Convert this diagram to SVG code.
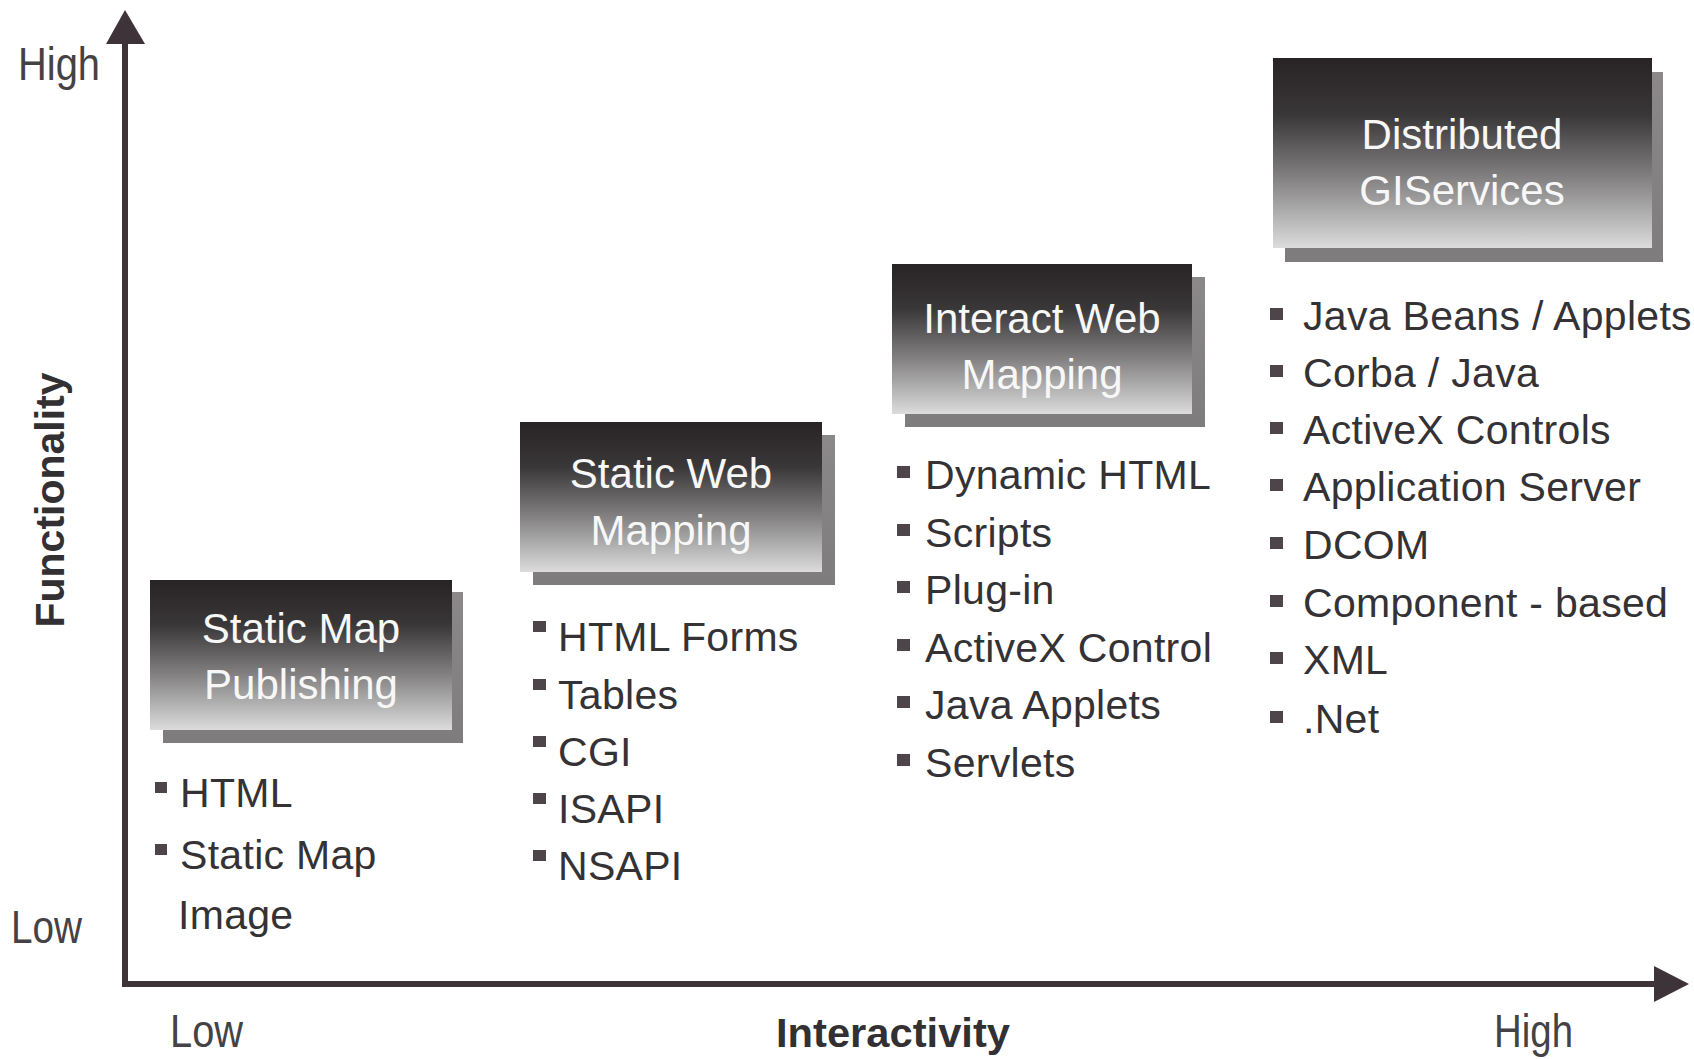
<svg xmlns="http://www.w3.org/2000/svg" width="1694" height="1059" viewBox="0 0 1694 1059">
  <style>
    .title { font-family: "Liberation Sans", Arial, sans-serif; font-size: 42px; fill: #f7f7f7; text-anchor: middle; }
    .item { font-family: "Liberation Sans", Arial, sans-serif; font-size: 41px; fill: #353235; letter-spacing: 0.3px; }
    .axlab { font-family: "Liberation Sans", Arial, sans-serif; font-size: 46px; fill: #454245; }
    .axtitle { font-family: "Liberation Sans", Arial, sans-serif; font-size: 40px; font-weight: bold; fill: #333033; }
    .shadow { fill: url(#shadgrad); }
    .box { fill: url(#boxgrad); }
    .bullet { fill: #4d4549; }
    .axis { stroke: #3d3338; stroke-width: 6; fill: none; stroke-linejoin: miter; }
    .head { fill: #3d3338; }
  </style>
  <defs>
    <linearGradient id="boxgrad" x1="0" y1="0" x2="0" y2="1">
      <stop offset="0" stop-color="#282324"/>
      <stop offset="0.3" stop-color="#3a3738"/>
      <stop offset="0.62" stop-color="#807e7f"/>
      <stop offset="1" stop-color="#dcdcdc"/>
    </linearGradient>
    <linearGradient id="shadgrad" x1="0" y1="0" x2="0" y2="1">
      <stop offset="0" stop-color="#8a8889"/>
      <stop offset="1" stop-color="#7e7c7d"/>
    </linearGradient>
  </defs>

  <rect width="1694" height="1059" fill="#ffffff"/>

  <!-- axes (connectors) -->
  <g id="axes">
    <polyline class="axis" points="125,40 125,984 1660,984"/>
    <polygon class="head" points="125,10 106,44 145,44"/>
    <polygon class="head" points="1689,984 1654,966 1654,1002"/>
  </g>

  <!-- axis labels -->
  <g id="axis-labels">
    <text class="axlab" x="18" y="80" textLength="82" lengthAdjust="spacingAndGlyphs">High</text>
    <text class="axlab" x="11" y="943" textLength="71" lengthAdjust="spacingAndGlyphs">Low</text>
    <text class="axlab" x="170" y="1047" textLength="73" lengthAdjust="spacingAndGlyphs">Low</text>
    <text class="axlab" x="1494" y="1047" textLength="79" lengthAdjust="spacingAndGlyphs">High</text>
    <text class="axtitle" x="776" y="1047" textLength="234" lengthAdjust="spacingAndGlyphs">Interactivity</text>
    <text class="axtitle" transform="translate(64,500) rotate(-90)" x="0" y="0" text-anchor="middle" textLength="255" lengthAdjust="spacingAndGlyphs">Functionality</text>
  </g>

  <!-- Node 1 -->
  <g id="static-map-publishing">
    <rect class="shadow" x="163" y="592" width="300" height="151"/>
    <rect class="box" x="150" y="580" width="302" height="150"/>
    <text class="title" x="301" y="643">Static Map</text>
    <text class="title" x="301" y="699">Publishing</text>
    <rect class="bullet" x="155" y="782" width="12" height="11"/>
    <text class="item" x="180" y="807">HTML</text>
    <rect class="bullet" x="155" y="844" width="12" height="11"/>
    <text class="item" x="180" y="869">Static Map</text>
    <text class="item" x="178" y="929">Image</text>
  </g>

  <!-- Node 2 -->
  <g id="static-web-mapping">
    <rect class="shadow" x="533" y="435" width="302" height="150"/>
    <rect class="box" x="520" y="422" width="302" height="150"/>
    <text class="title" x="671" y="488">Static Web</text>
    <text class="title" x="671" y="545">Mapping</text>
    <rect class="bullet" x="533" y="621" width="13" height="11"/>
    <text class="item" x="558" y="651">HTML Forms</text>
    <rect class="bullet" x="533" y="679" width="13" height="11"/>
    <text class="item" x="558" y="709">Tables</text>
    <rect class="bullet" x="533" y="736" width="13" height="11"/>
    <text class="item" x="558" y="766">CGI</text>
    <rect class="bullet" x="533" y="793" width="13" height="11"/>
    <text class="item" x="558" y="823">ISAPI</text>
    <rect class="bullet" x="533" y="850" width="13" height="11"/>
    <text class="item" x="558" y="880">NSAPI</text>
  </g>

  <!-- Node 3 -->
  <g id="interact-web-mapping">
    <rect class="shadow" x="905" y="277" width="300" height="150"/>
    <rect class="box" x="892" y="264" width="300" height="150"/>
    <text class="title" x="1042" y="333">Interact Web</text>
    <text class="title" x="1042" y="389">Mapping</text>
    <rect class="bullet" x="897" y="466" width="13" height="12"/>
    <text class="item" x="925" y="489">Dynamic HTML</text>
    <rect class="bullet" x="897" y="524" width="13" height="12"/>
    <text class="item" x="925" y="547">Scripts</text>
    <rect class="bullet" x="897" y="581" width="13" height="12"/>
    <text class="item" x="925" y="604">Plug-in</text>
    <rect class="bullet" x="897" y="639" width="13" height="12"/>
    <text class="item" x="925" y="662">ActiveX Control</text>
    <rect class="bullet" x="897" y="696" width="13" height="12"/>
    <text class="item" x="925" y="719">Java Applets</text>
    <rect class="bullet" x="897" y="754" width="13" height="12"/>
    <text class="item" x="925" y="777">Servlets</text>
  </g>

  <!-- Node 4 -->
  <g id="distributed-giservices">
    <rect class="shadow" x="1285" y="72" width="378" height="190"/>
    <rect class="box" x="1273" y="58" width="379" height="190"/>
    <text class="title" x="1462" y="149">Distributed</text>
    <text class="title" x="1462" y="205">GIServices</text>
    <rect class="bullet" x="1270" y="308" width="13" height="12"/>
    <text class="item" x="1303" y="330">Java Beans / Applets</text>
    <rect class="bullet" x="1270" y="365" width="13" height="12"/>
    <text class="item" x="1303" y="387">Corba / Java</text>
    <rect class="bullet" x="1270" y="422" width="13" height="12"/>
    <text class="item" x="1303" y="444">ActiveX Controls</text>
    <rect class="bullet" x="1270" y="479" width="13" height="12"/>
    <text class="item" x="1303" y="501">Application Server</text>
    <rect class="bullet" x="1270" y="537" width="13" height="12"/>
    <text class="item" x="1303" y="559">DCOM</text>
    <rect class="bullet" x="1270" y="595" width="13" height="12"/>
    <text class="item" x="1303" y="617">Component - based</text>
    <rect class="bullet" x="1270" y="652" width="13" height="12"/>
    <text class="item" x="1303" y="674">XML</text>
    <rect class="bullet" x="1270" y="711" width="13" height="12"/>
    <text class="item" x="1303" y="733">.Net</text>
  </g>
</svg>
